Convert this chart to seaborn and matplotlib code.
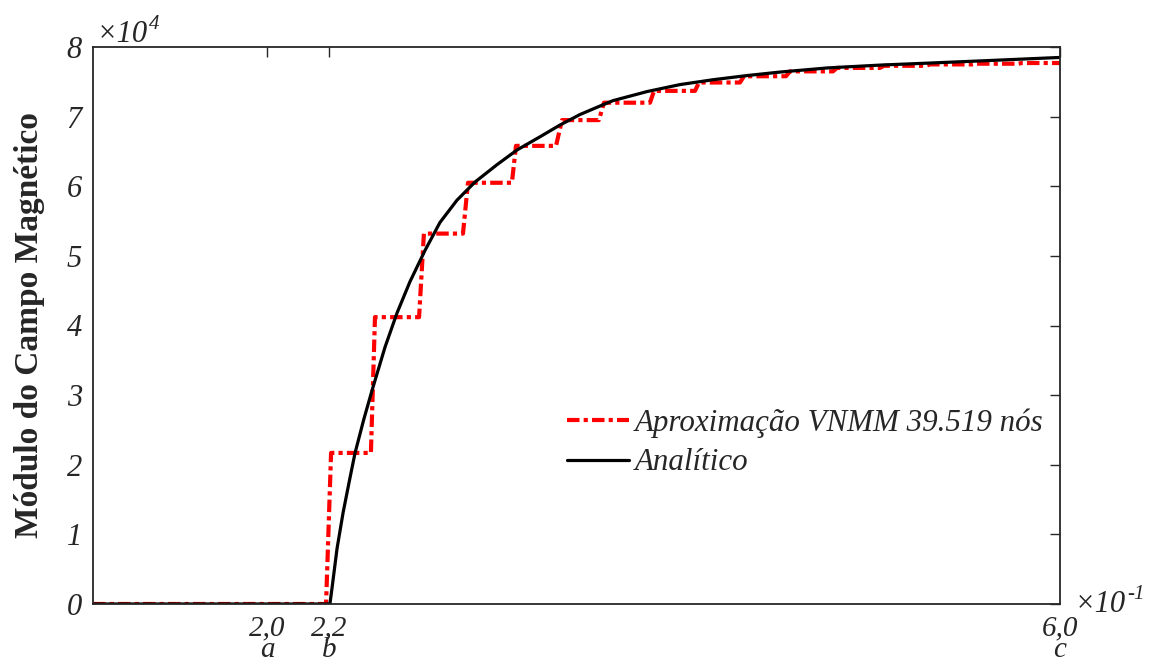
import matplotlib
matplotlib.use("Agg")
import matplotlib.pyplot as plt
import seaborn as sns
import pandas as pd

# ---- data (x in units of 1e-1, y in units of 1e4) ----
red_x = [1.0, 2.205, 2.231, 2.437, 2.458, 2.686, 2.711, 2.913, 2.939, 3.166, 3.187,
         3.394, 3.425, 3.616, 3.642, 3.880, 3.901, 4.113, 4.133, 4.345, 4.366,
         4.583, 4.604, 4.826, 4.847, 5.069, 5.090, 5.307, 5.328, 5.545, 5.566,
         5.783, 5.804, 6.0]
red_y = [0.0, 0.0, 2.17, 2.17, 4.12, 4.12, 5.32, 5.32, 6.05, 6.05, 6.58,
         6.58, 6.95, 6.95, 7.20, 7.20, 7.37, 7.37, 7.49, 7.49, 7.58,
         7.58, 7.65, 7.65, 7.70, 7.70, 7.73, 7.73, 7.75, 7.75, 7.76,
         7.76, 7.77, 7.77]

black_x = [1.0, 2.225, 2.236, 2.262, 2.293, 2.325, 2.355, 2.400, 2.443, 2.510, 2.572,
           2.639, 2.717, 2.794, 2.882, 2.975, 3.089, 3.192, 3.311, 3.415, 3.518,
           3.611, 3.689, 3.865, 4.035, 4.206, 4.382, 4.552, 4.800, 5.069, 5.330,
           5.586, 6.0]
black_y = [0.0, 0.0, 0.23, 0.80, 1.31, 1.76, 2.17, 2.65, 3.07, 3.69, 4.18,
           4.63, 5.08, 5.48, 5.80, 6.06, 6.31, 6.52, 6.71, 6.88, 7.03,
           7.14, 7.23, 7.36, 7.46, 7.53, 7.59, 7.64, 7.70, 7.74, 7.77,
           7.80, 7.85]

xtick_pos = [1.9, 2.22, 6.0]
xtick_lab = ["2,0\na", "2,2\nb", "6,0\nc"]
ytick_pos = [0, 1, 2, 3, 4, 5, 6, 7, 8]
ytick_lab = [str(v) for v in ytick_pos]

label_red = "Aproximação VNMM 39.519 nós"
label_black = "Analítico"

sns.set_theme(style="white")
plt.rcParams["font.family"] = ["Liberation Serif", "DejaVu Serif"]

FG = "#262626"
fig = plt.figure(figsize=(11.53, 6.70), dpi=100)
ax = fig.add_axes([93/1153, 1-604/670, (1060-93)/1153, (604-47)/670])

df_r = pd.DataFrame({"x": red_x, "y": red_y})
df_b = pd.DataFrame({"x": black_x, "y": black_y})

sns.lineplot(data=df_r, x="x", y="y", ax=ax, color="#ff0000", lw=3.0,
             estimator=None, sort=False, label=label_red)
ax.lines[-1].set_linestyle((0, (3.0, 1.0, 1.0, 1.0)))
sns.lineplot(data=df_b, x="x", y="y", ax=ax, color="black", lw=2.3,
             estimator=None, sort=False, label=label_black)

ax.set_xlim(1.0, 6.0)
ax.set_ylim(0, 8)
ax.set_xticks(xtick_pos)
ax.set_xticklabels(xtick_lab, fontsize=21, fontstyle="italic", linespacing=0.8,
                   color=FG)
ax.set_yticks(ytick_pos)
ax.set_yticklabels(ytick_lab, fontsize=22, fontstyle="italic", color=FG)
ax.tick_params(axis="both", direction="in", length=7, width=1.0, colors=FG,
               top=True, right=True)
ax.tick_params(axis="x", pad=8)
ax.tick_params(axis="y", pad=8)
for s in ax.spines.values():
    s.set_visible(True)
    s.set_color(FG)
    s.set_linewidth(1.3)

ax.set_xlabel("")
ax.set_ylabel("Módulo do Campo Magnético", fontsize=24, fontweight="bold",
              color=FG)
ax.yaxis.set_label_coords(-0.05, 0.5)

leg = ax.legend(loc="upper left", bbox_to_anchor=((567-93)/967, (604-408)/557),
                frameon=False, fontsize=22.3, borderpad=0, borderaxespad=0,
                handlelength=2.0, handletextpad=0.2, labelspacing=0.35)
for t in leg.get_texts():
    t.set_fontstyle("italic")
    t.set_color(FG)

# offset multipliers
r = fig.canvas.get_renderer()
def mult(x_px, base_px, exp):
    t = fig.text(x_px/1153, 1-base_px/670, "×10", fontsize=22, fontstyle="italic",
                 ha="left", va="baseline", color=FG)
    bb = t.get_window_extent(renderer=r)
    fig.text(bb.x1/1153 + 1/1153, 1-(base_px-13)/670, exp, fontsize=15,
             fontstyle="italic", ha="left", va="baseline", color=FG)

mult(97, 42, "4")
mult(1075, 612, "-1")

fig.savefig("out.png", dpi=100)
